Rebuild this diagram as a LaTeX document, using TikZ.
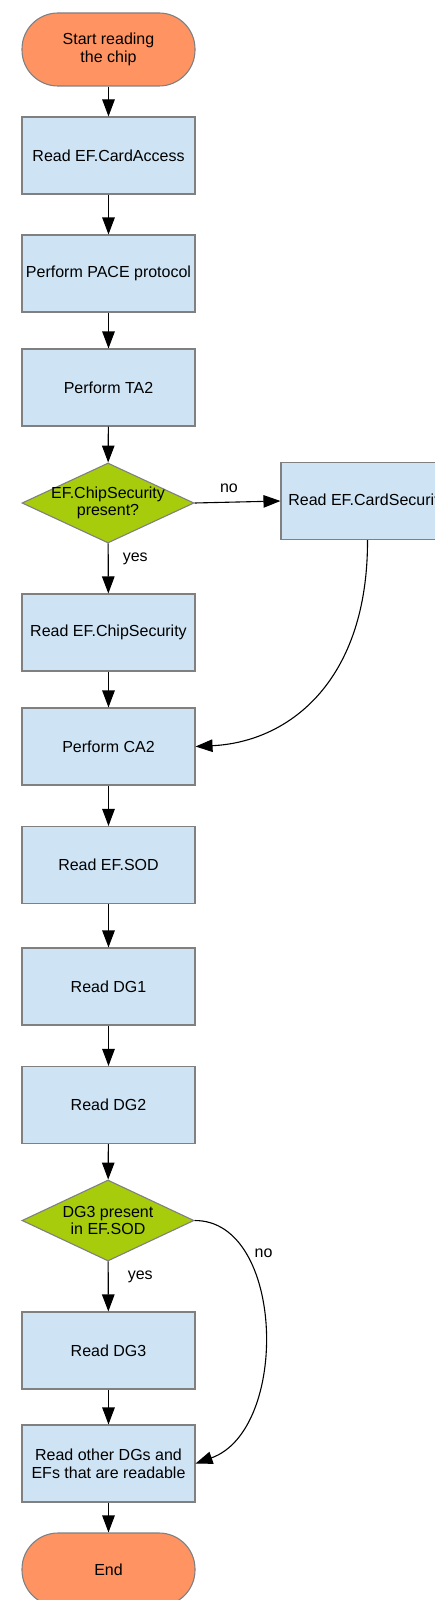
\documentclass[tikz,border=0pt]{standalone}
\usepackage{fontspec}
\setmainfont{Liberation Sans}
\usetikzlibrary{shapes.geometric,arrows.meta}
\definecolor{termfill}{RGB}{255,148,98}
\definecolor{boxfill}{RGB}{206,228,245}
\definecolor{decfill}{RGB}{166,204,12}
\definecolor{edgegray}{RGB}{128,128,128}
\tikzset{
  base/.style={draw=edgegray, line width=1.1pt, inner sep=0pt, align=center,
    font=\fontsize{16}{17.7}\selectfont},
  term/.style={base, rectangle, rounded corners=36pt, fill=termfill,
    minimum width=173pt, minimum height=73pt},
  proc/.style={base, rectangle, fill=boxfill, minimum width=173pt, minimum height=77pt},
  dec/.style={base, diamond, fill=decfill, minimum width=172pt, minimum height=80pt},
  flow/.style={line width=1.1pt, -{Triangle[length=17pt,width=12.5pt]}},
  lbl/.style={font=\fontsize{16}{17.7}\selectfont, inner sep=0pt}
}
\begin{document}
\begin{tikzpicture}[x=1pt,y=-1pt]
\useasboundingbox[fill=white] (0,0) rectangle (435,1600);
\clip (0,0) rectangle (435,1600);
\node[term] (start) at (108.5,49.5) {Start reading\\the chip};
\node[proc] (ca) at (108.5,155.5) {Read EF.CardAccess};
\node[proc] (pace) at (108.5,273.5) {Perform PACE protocol};
\node[proc] (ta2) at (108.5,387.5) {Perform TA2};
\node[dec, label={[lbl,align=center]center:EF.ChipSecurity\\present?}] (d1) at (108,503) {};
\node[proc] (cs) at (367.5,501) {Read EF.CardSecurity};
\node[proc] (chip) at (108.5,632.5) {Read EF.ChipSecurity};
\node[proc] (ca2) at (108.5,746.5) {Perform CA2};
\node[proc] (sod) at (108.5,865) {Read EF.SOD};
\node[proc] (dg1) at (108.5,986.5) {Read DG1};
\node[proc] (dg2) at (108.5,1105) {Read DG2};
\node[dec, minimum height=81pt, label={[lbl,align=center]center:DG3 present\\in EF.SOD}] (d2) at (108,1220.5) {};
\node[proc] (dg3) at (108.5,1350.5) {Read DG3};
\node[proc] (other) at (108.5,1463.5) {Read other DGs and\\EFs that are readable};
\node[term] (end) at (108.5,1569.5) {End};

\draw[flow] (start) -- (ca);
\draw[flow] (ca) -- (pace);
\draw[flow] (pace) -- (ta2);
\draw[flow] (ta2) -- (d1);
\draw[flow] (d1.east) -- node[lbl, above=9pt, pos=0.4] (no1) {no} (cs.west);
\draw[flow] (d1) -- node[lbl, right=14pt, pos=0.3] (yes1) {yes} (chip);
\draw[flow] (chip) -- (ca2);
\draw[flow] (cs.south) .. controls (368,680) and (290,742) .. (ca2.east);
\draw[flow] (ca2) -- (sod);
\draw[flow] (sod) -- (dg1);
\draw[flow] (dg1) -- (dg2);
\draw[flow] (dg2) -- (d2);
\draw[flow] (d2) -- node[lbl, right=19pt, pos=0.3] (yes2) {yes} (dg3);
\draw[flow] (d2.east) .. controls (285,1220) and (290,1430) .. node[lbl, pos=0.25, right=8pt] (no2) {no} (other.east);
\draw[flow] (dg3) -- (other);
\draw[flow] (other) -- (end);
\end{tikzpicture}
\end{document}
